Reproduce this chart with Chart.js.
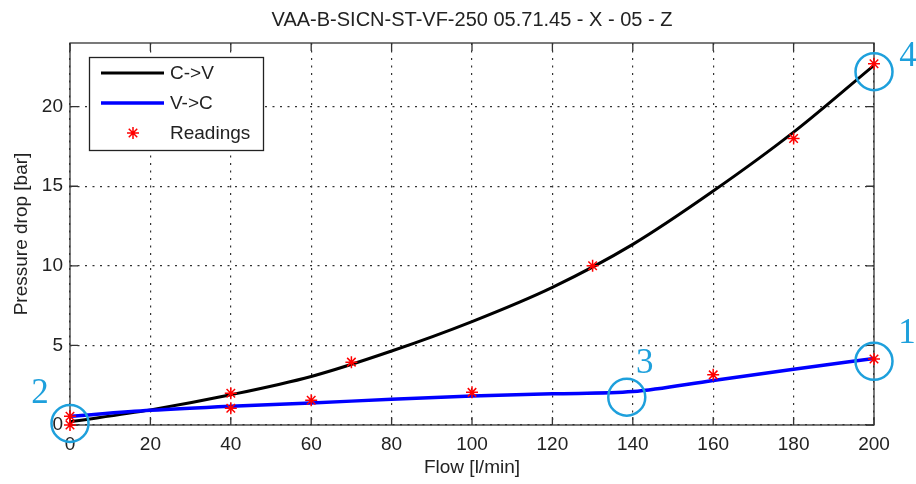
<!DOCTYPE html>
<html>
<head>
<meta charset="utf-8">
<script src="https://cdn.jsdelivr.net/npm/chart.js@4"></script>
<style>
  html, body { margin: 0; padding: 0; background: #fff; }
  #contenedor { width: 916px; height: 484px; }
</style>
</head>
<body>
<div id="contenedor"><canvas id="grafico"></canvas></div>
<script>
// curva C->V (caudal l/min, caida de presion bar)
const flujoCV = [0, 20, 40, 60, 80, 100, 120, 140, 160, 180, 200]
const presionCV = [0.2, 0.95, 1.9, 3.05, 4.65, 6.5, 8.65, 11.35, 14.7, 18.4, 22.6]

// curva V->C
const flujoVC = [0, 20, 40, 60, 80, 100, 120, 140, 160, 180, 200]
const presionVC = [0.55, 0.92, 1.18, 1.38, 1.62, 1.82, 1.96, 2.1, 2.8, 3.5, 4.18]

// lecturas medidas
const flujoLecturas = [0, 0, 40, 40, 60, 70, 100, 130, 160, 180, 200, 200]
const presionLecturas = [0.55, 0, 2.0, 1.05, 1.55, 3.95, 2.05, 10.0, 3.15, 18.0, 22.7, 4.15]

const xTicks = [0, 20, 40, 60, 80, 100, 120, 140, 160, 180, 200]
const yTicks = [0, 5, 10, 15, 20]

// puntos marcados con circulo
const marcasTexto = ['1', '2', '3', '4']
const marcasX = [200, 0, 138.5, 200]
const marcasY = [4.0, 0.1, 1.75, 22.2]

const aPuntos = (xs, ys) => xs.map((x, i) => ({ x: x, y: ys[i] }))

const fuente = 'Liberation Sans, Arial, sans-serif'
const cian = '#1ea0dc'

// marco de los ejes con las marcas hacia adentro
const cajaEjes = {
    id: 'cajaEjes',
    beforeDatasetsDraw(chart) {
        const { ctx, chartArea: a, scales: { x, y } } = chart
        ctx.save()
        ctx.strokeStyle = '#333'
        ctx.lineWidth = 1.3
        ctx.strokeRect(a.left, a.top, a.right - a.left, a.bottom - a.top)
        ctx.beginPath()
        x.ticks.forEach(t => {
            const px = x.getPixelForValue(t.value)
            ctx.moveTo(px, a.bottom); ctx.lineTo(px, a.bottom - 8)
            ctx.moveTo(px, a.top); ctx.lineTo(px, a.top + 8)
        })
        y.ticks.forEach(t => {
            const py = y.getPixelForValue(t.value)
            ctx.moveTo(a.left, py); ctx.lineTo(a.left + 8, py)
            ctx.moveTo(a.right, py); ctx.lineTo(a.right - 8, py)
        })
        ctx.stroke()
        ctx.restore()
    }
}

const dibujarEstrella = (ctx, cx, cy, r) => {
    ctx.beginPath()
    ctx.moveTo(cx - r, cy); ctx.lineTo(cx + r, cy)
    ctx.moveTo(cx, cy - r); ctx.lineTo(cx, cy + r)
    const d = r * Math.SQRT1_2
    ctx.moveTo(cx - d, cy - d); ctx.lineTo(cx + d, cy + d)
    ctx.moveTo(cx - d, cy + d); ctx.lineTo(cx + d, cy - d)
    ctx.stroke()
}

// leyenda dentro del area de graficos, arriba a la izquierda
const leyenda = {
    id: 'leyenda',
    afterDatasetsDraw(chart) {
        const ctx = chart.ctx
        ctx.save()
        ctx.fillStyle = '#fff'
        ctx.fillRect(89.5, 57.5, 174, 93)
        ctx.strokeStyle = '#222'
        ctx.lineWidth = 1.3
        ctx.strokeRect(89.5, 57.5, 174, 93)
        ctx.font = '19px ' + fuente
        ctx.textBaseline = 'middle'
        chart.data.datasets.forEach((ds, i) => {
            const fy = 73 + i * 30
            ctx.strokeStyle = ds.borderColor
            if (ds.showLine) {
                ctx.lineWidth = ds.borderWidth
                ctx.beginPath()
                ctx.moveTo(101, fy); ctx.lineTo(164, fy)
                ctx.stroke()
            } else {
                ctx.lineWidth = ds.borderWidth
                dibujarEstrella(ctx, 133, fy, ds.pointRadius)
            }
            ctx.fillStyle = '#222'
            ctx.fillText(ds.label, 170, fy + 1)
        })
        ctx.restore()
    }
}

// circulos y numeros en cian
const desplazamientos = [[33, -18], [-30, -20], [18, -24], [34, -6]]
const marcas = {
    id: 'marcas',
    afterDraw(chart) {
        const { ctx, scales: { x, y } } = chart
        ctx.save()
        ctx.strokeStyle = cian
        ctx.fillStyle = cian
        ctx.lineWidth = 2.5
        ctx.font = '35px Liberation Serif, serif'
        ctx.textAlign = 'center'
        ctx.textBaseline = 'alphabetic'
        marcasTexto.forEach((txt, i) => {
            const cx = x.getPixelForValue(marcasX[i])
            const cy = y.getPixelForValue(marcasY[i])
            ctx.beginPath()
            ctx.arc(cx, cy, 18.5, 0, Math.PI * 2)
            ctx.stroke()
            ctx.fillText(txt, cx + desplazamientos[i][0], cy + desplazamientos[i][1])
        })
        ctx.restore()
    }
}

const ctx = document.getElementById('grafico')

const grafico = new Chart(ctx, {
    type: 'scatter',
    data: {
        datasets: [{
            label: 'C->V',
            data: aPuntos(flujoCV, presionCV),
            showLine: true,
            borderColor: '#000',
            borderWidth: 3,
            pointRadius: 0,
            cubicInterpolationMode: 'monotone',
            order: 2
        }, {
            label: 'V->C',
            data: aPuntos(flujoVC, presionVC),
            showLine: true,
            borderColor: '#0000ff',
            borderWidth: 3.5,
            pointRadius: 0,
            cubicInterpolationMode: 'monotone',
            order: 1
        }, {
            label: 'Readings',
            data: aPuntos(flujoLecturas, presionLecturas),
            showLine: false,
            pointStyle: 'star',
            pointRadius: 6,
            borderColor: '#ff0000',
            backgroundColor: '#ff0000',
            borderWidth: 1.5,
            clip: false,
            order: 0
        }]
    },
    options: {
        responsive: true,
        maintainAspectRatio: false,
        animation: false,
        layout: { padding: { top: 0, right: 42, bottom: 0, left: 0 } },
        plugins: {
            legend: { display: false },
            tooltip: { enabled: false },
            title: {
                display: true,
                text: 'VAA-B-SICN-ST-VF-250 05.71.45 - X - 05 - Z',
                color: '#222',
                font: { family: fuente, size: 20, weight: 'normal' },
                padding: { top: 8, bottom: 11 },
                fullSize: false
            }
        },
        scales: {
            x: {
                type: 'linear',
                min: 0,
                max: 200,
                afterBuildTicks: s => { s.ticks = xTicks.map(v => ({ value: v })) },
                afterFit: s => { s.height = 59 },
                ticks: { color: '#222', font: { family: fuente, size: 19 }, padding: 8, maxRotation: 0 },
                grid: { color: '#333', lineWidth: 1.2, drawTicks: false },
                border: { display: false, dash: [2, 5.5] },
                title: {
                    display: true,
                    text: 'Flow [l/min]',
                    color: '#222',
                    font: { family: fuente, size: 19 },
                    padding: { top: 0, bottom: 5 }
                }
            },
            y: {
                type: 'linear',
                min: 0,
                max: 24,
                afterBuildTicks: s => { s.ticks = yTicks.map(v => ({ value: v })) },
                afterFit: s => { s.width = 70 },
                ticks: { color: '#222', font: { family: fuente, size: 19 }, padding: 7 },
                grid: { color: '#333', lineWidth: 1.2, drawTicks: false },
                border: { display: false, dash: [2, 5.5] },
                title: {
                    display: true,
                    text: 'Pressure drop [bar]',
                    color: '#222',
                    font: { family: fuente, size: 19 },
                    padding: { top: 10, bottom: 0 }
                }
            }
        }
    },
    plugins: [cajaEjes, leyenda, marcas]
})
</script>
</body>
</html>
